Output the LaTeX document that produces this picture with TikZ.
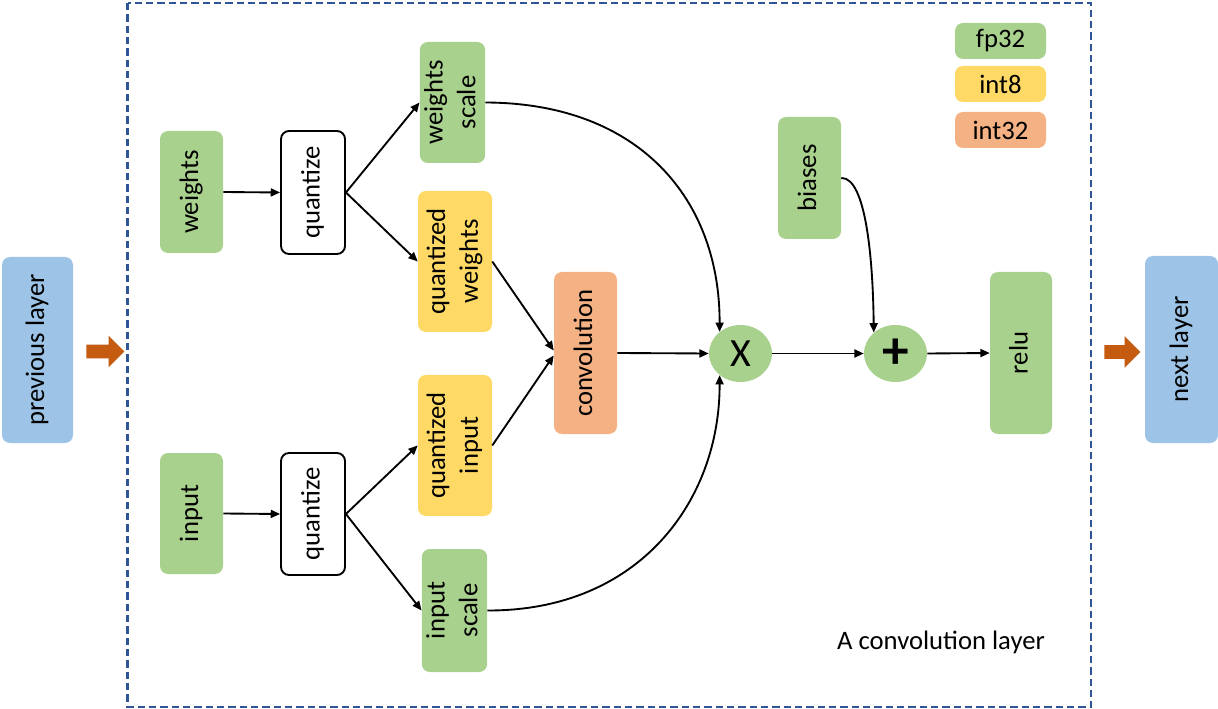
\documentclass[tikz,border=0pt]{standalone}
\usepackage{fontspec}
\setmainfont{Carlito}
\usetikzlibrary{arrows.meta,shapes.geometric,shapes.arrows}
\definecolor{gr}{HTML}{A9D18E}
\definecolor{yl}{HTML}{FFD966}
\definecolor{og}{HTML}{F4B183}
\definecolor{bl}{HTML}{9DC3E6}
\definecolor{arr}{HTML}{C55A11}
\definecolor{frame}{HTML}{2F5597}
\newcommand\rtx[1]{\rotatebox{90}{\begin{tabular}{@{}c@{}}#1\end{tabular}}}
\begin{document}
\begin{tikzpicture}[x=0.75pt,y=-0.75pt,
  box/.style={rectangle, rounded corners=6pt, inner sep=0pt, draw=none, font=\fontsize{20}{24.5}\selectfont},
  sz/.style 2 args={minimum width=#1*0.75pt, minimum height=#2*0.75pt},
  gbox/.style={box, fill=gr},
  ybox/.style={box, fill=yl},
  obox/.style={box, fill=og},
  bbox/.style={box, fill=bl},
  qbox/.style={box, fill=white, draw=black, line width=1.4pt},
  op/.style={ellipse, fill=gr, inner sep=0pt, minimum width=63*0.75pt, minimum height=57*0.75pt, font=\fontsize{30}{32}\selectfont},
  conn/.style={line width=1.4pt, -{Triangle[length=7pt,width=6pt]}},
  blockarrow/.style={single arrow, fill=arr, draw=none, inner xsep=0pt, inner ysep=4.9pt, single arrow head extend=6.75pt, single arrow head indent=0pt},
  dashfr/.style={draw=frame, line width=1.7pt, dash pattern=on 5.5pt off 3pt},
  lbl/.style={inner sep=0pt, font=\fontsize{20}{24}\selectfont}
]
\useasboundingbox (0,0) rectangle (1218,709);
\path[dashfr] (127.5,3) rectangle (1091,707);

\node[bbox, sz={71}{186}] (prev) at (37.5,350) {\rtx{previous layer}};
\node[bbox, sz={73}{187}] (next) at (1181.5,349.5) {\rtx{next layer}};
\node[blockarrow, minimum height=28.5pt] (a1) at (102,351.5) {};
\node[blockarrow, minimum height=27pt] (a2) at (1119,352) {};

\node[gbox, sz={63}{122}] (w) at (191.5,192) {\rtx{weights}};
\node[qbox, sz={64}{123}] (q1) at (313,192.5) {\rtx{quantize}};
\node[gbox, sz={61}{121}] (ws) at (452.5,102.5) {\rtx{weights\\scale}};
\node[ybox, sz={74}{141}] (qw) at (455,261.5) {\rtx{quantized\\weights}};
\node[obox, sz={63}{162}] (conv) at (585.5,353) {\rtx{convolution}};
\node[ybox, sz={74}{141}] (qi) at (455,445.5) {\rtx{quantized\\input}};
\node[gbox, sz={63}{121}] (in) at (191.5,513.5) {\rtx{input}};
\node[qbox, sz={64}{122}] (q2) at (313,514) {\rtx{quantize}};
\node[gbox, sz={63}{123}] (is) at (454.5,610.5) {\rtx{input\\scale}};
\node[op] (mul) at (740.5,353.5) {X};
\node[op, font=\fontsize{40}{40}\selectfont\bfseries] (add) at (895.5,353.5) {+};
\node[gbox, sz={62}{162}] (relu) at (1021,353) {\rtx{relu}};
\node[gbox, sz={63}{122}] (bias) at (809.5,178) {\rtx{biases}};

\node[gbox, sz={91}{36}] (l1) at (1000.5,41) {fp32};
\node[ybox, sz={91}{36}] (l2) at (1000.5,84) {int8};
\node[obox, sz={91}{36}] (l3) at (1000.5,130) {int32};

\node[lbl] (title) at (941,642) {A convolution layer};

\draw[conn] (w.east) -- (q1.west);
\draw[conn] (q1.east) -- (ws.west);
\draw[conn] (q1.east) -- (qw.west);
\draw[conn] (in.east) -- (q2.west);
\draw[conn] (q2.east) -- (qi.west);
\draw[conn] (q2.east) -- (is.west);
\draw[conn] (qw.east) -- ([yshift=1.8pt]conv.west);
\draw[conn] (qi.east) -- ([yshift=-1.8pt]conv.west);
\draw[conn] (conv.east) -- (mul.west);
\draw[conn] (mul.east) -- (add.west);
\draw[conn] (add.east) -- (relu.west);
\draw[conn] (ws.east) .. controls (640,103) and (720,200) .. (mul.134);
\draw[conn] (is.east) .. controls (640,611) and (720,500) .. (mul.226);
\draw[conn] (bias.east) .. controls (866,177) and (873,260) .. (add.136);
\end{tikzpicture}
\end{document}
